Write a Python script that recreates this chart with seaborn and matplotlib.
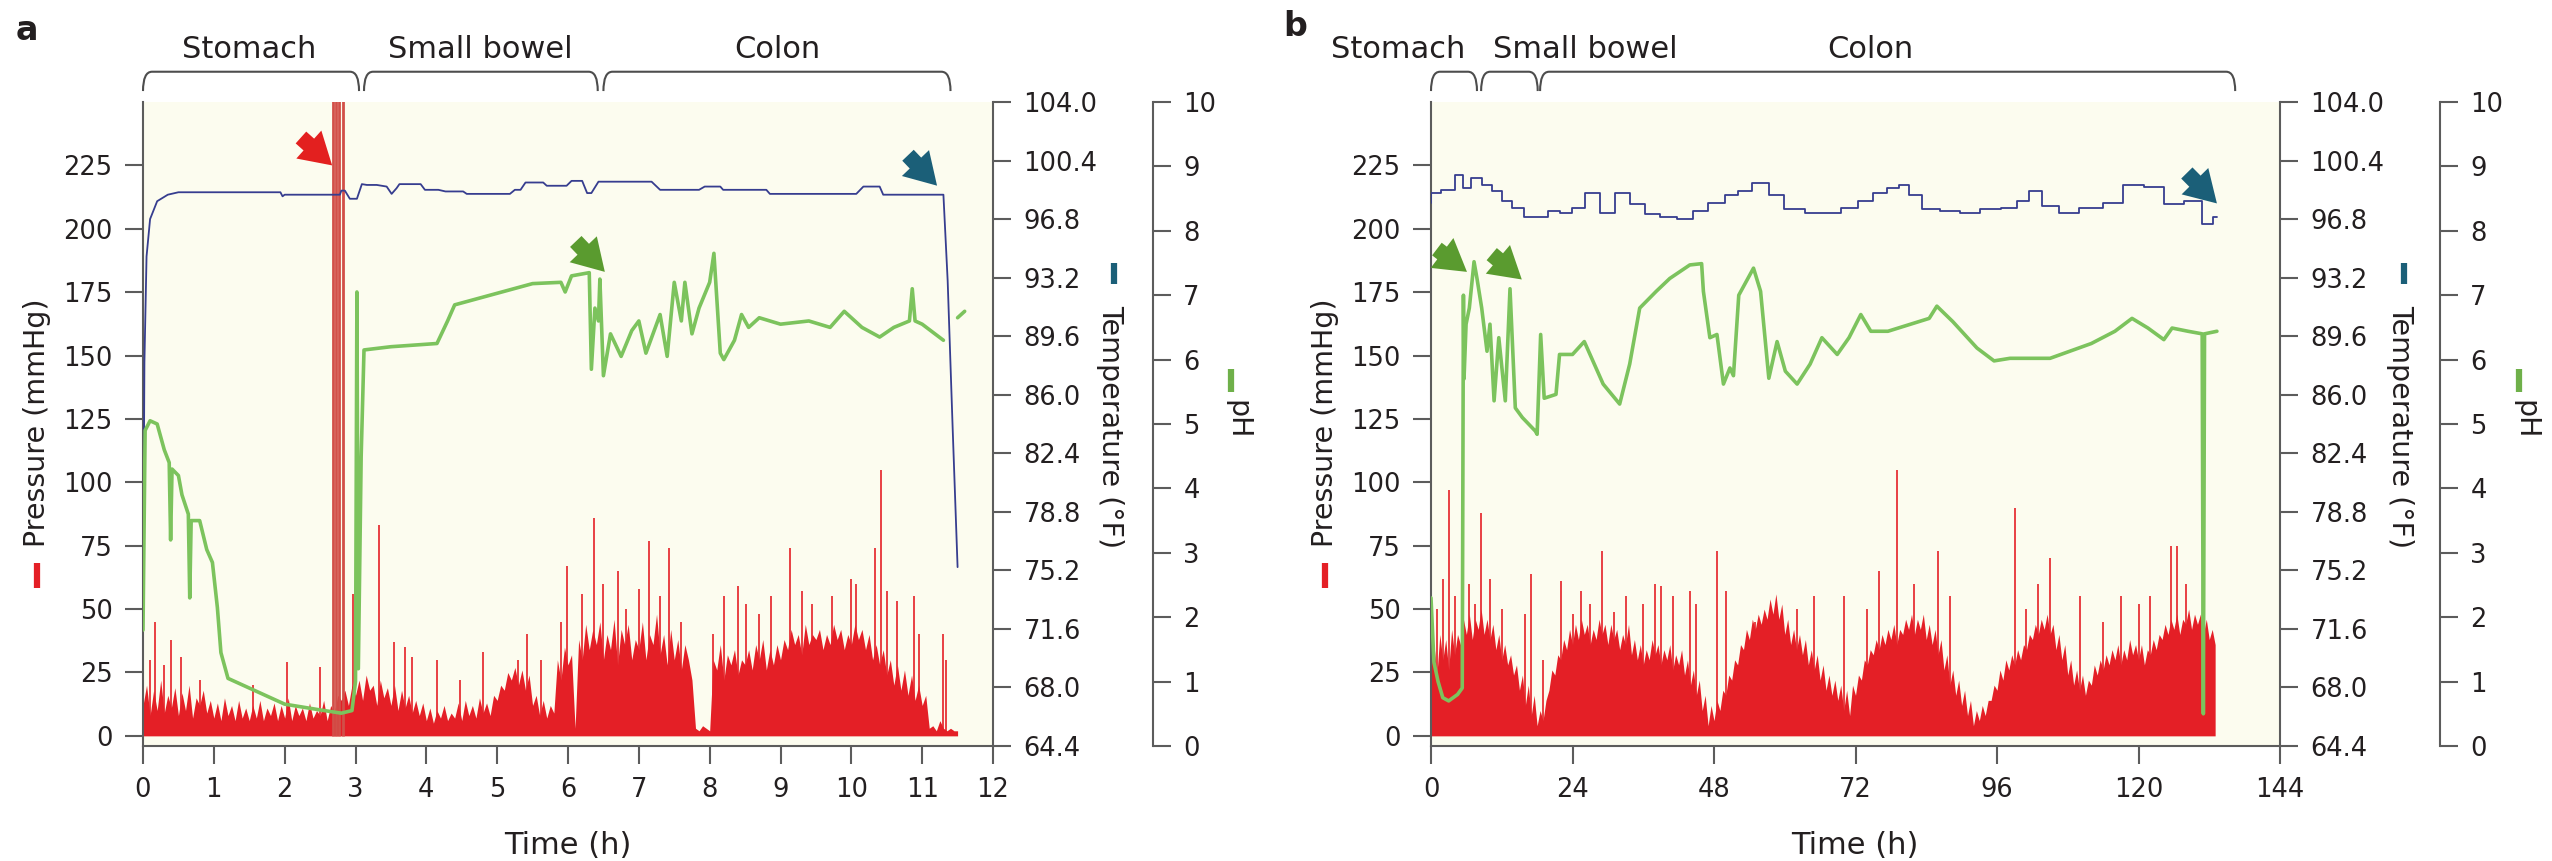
import numpy as np
import matplotlib
matplotlib.use('Agg')
import matplotlib.pyplot as plt
from matplotlib.path import Path
from matplotlib.patches import PathPatch
from matplotlib.lines import Line2D
import seaborn as sns

# ---------------- panel a: 12 h recording ----------------
temp_a_t = [0.0, 0.02, 0.05, 0.1, 0.2, 0.35, 0.5, 1.94, 1.97, 2.0, 2.78, 2.8, 2.85, 2.92,
            3.02, 3.09, 3.16, 3.3, 3.44, 3.51, 3.58, 3.62, 3.92, 3.98, 4.17, 4.27, 4.52,
            4.57, 5.18, 5.25, 5.33, 5.4, 5.65, 5.7, 5.98, 6.05, 6.2, 6.27, 6.33, 6.43,
            7.18, 7.3, 7.85, 7.93, 8.15, 8.19, 8.8, 8.85, 10.07, 10.17, 10.4, 10.45,
            11.3, 11.36, 11.43, 11.5]
temp_a = [72.0, 88.0, 94.5, 96.8, 97.9, 98.3, 98.45, 98.45, 98.2, 98.3, 98.3, 98.55, 98.55,
          98.05, 98.05, 98.95, 98.9, 98.9, 98.8, 98.35, 98.7, 98.95, 98.95, 98.6, 98.6,
          98.5, 98.5, 98.35, 98.35, 98.6, 98.6, 99.05, 99.05, 98.85, 98.85, 99.15, 99.15,
          98.4, 98.4, 99.1, 99.1, 98.6, 98.6, 98.8, 98.8, 98.6, 98.6, 98.35, 98.35, 98.8,
          98.8, 98.3, 98.3, 93.0, 84.0, 75.4]

ph_a_t = [0.0, 0.03, 0.1, 0.2, 0.3, 0.37, 0.39, 0.41, 0.5, 0.55, 0.64, 0.66, 0.68, 0.8,
          0.9, 0.98, 1.05, 1.1, 1.2, 1.5, 2.0, 2.5, 2.8, 2.95, 3.0, 3.02, 3.04, 3.08, 3.12,
          3.5, 4.15, 4.3, 4.4, 4.9, 5.5, 5.9, 5.96, 6.05, 6.3, 6.33, 6.38, 6.43, 6.45, 6.5,
          6.6, 6.75, 6.9, 7.0, 7.1, 7.3, 7.4, 7.5, 7.6, 7.65, 7.75, 7.85, 8.0, 8.06, 8.15,
          8.2, 8.35, 8.45, 8.55, 8.7, 9.0, 9.4, 9.7, 9.9, 10.15, 10.4, 10.6, 10.82, 10.86,
          10.9, 11.0, 11.3]
ph_a = [1.8, 4.9, 5.05, 5.0, 4.6, 4.4, 3.2, 4.3, 4.2, 3.9, 3.6, 2.3, 3.5, 3.5, 3.05, 2.85,
        2.15, 1.45, 1.05, 0.9, 0.65, 0.56, 0.51, 0.55, 1.0, 7.05, 1.2, 4.5, 6.15, 6.2, 6.25,
        6.6, 6.85, 7.0, 7.18, 7.2, 7.05, 7.3, 7.35, 5.85, 6.8, 6.6, 7.25, 5.75, 6.4, 6.05,
        6.45, 6.6, 6.1, 6.7, 6.05, 7.2, 6.6, 7.2, 6.4, 6.8, 7.2, 7.65, 6.1, 6.0, 6.3, 6.7,
        6.5, 6.65, 6.55, 6.6, 6.5, 6.75, 6.5, 6.35, 6.5, 6.6, 7.1, 6.6, 6.55, 6.3]
ph_a_tail_t = [11.5, 11.6]
ph_a_tail = [6.65, 6.75]

# pressure, one reading every 0.05 h from 0 to 11.5 h
pres_a = [12, 20, 8, 18, 10, 22, 9, 16, 11, 19,
          8, 17, 10, 20, 7, 15, 12, 18, 9, 14,
          7, 13, 6, 15, 8, 12, 6, 14, 7, 11,
          6, 12, 7, 14, 6, 11, 8, 13, 6, 12,
          7, 15, 6, 12, 8, 11, 6, 13, 7, 10,
          8, 14, 6, 12, 9, 16, 14, 18, 12, 20,
          16, 22, 14, 24, 18, 20, 12, 22, 15, 19,
          12, 20, 10, 18, 11, 16, 9, 14, 8, 13,
          6, 11, 5, 10, 7, 12, 6, 9, 7, 13,
          6, 14, 8, 12, 7, 15, 9, 13, 8, 16,
          14, 20, 18, 25, 22, 27, 20, 26, 18, 24,
          12, 16, 8, 14, 7, 12, 9, 30, 22, 35,
          28, 32, 3, 38, 30, 44, 34, 42, 36, 45,
          30, 40, 34, 46, 28, 42, 36, 44, 30, 38,
          34, 45, 30, 40, 36, 48, 32, 40, 28, 42,
          30, 38, 26, 36, 30, 22, 3, 2, 4, 3,
          2, 30, 26, 36, 22, 32, 28, 34, 24, 30,
          28, 34, 26, 36, 30, 38, 26, 34, 28, 36,
          30, 38, 34, 42, 36, 40, 32, 44, 36, 40,
          38, 42, 34, 40, 36, 44, 38, 42, 34, 40,
          36, 44, 38, 42, 34, 40, 30, 36, 28, 34,
          24, 30, 20, 28, 18, 26, 16, 24, 14, 20,
          12, 16, 3, 4, 2, 6, 3, 2, 3, 2,
          2]
spike_a_t = [0.1, 0.17, 0.3, 0.4, 0.53, 0.8, 1.55, 2.03, 2.5, 2.96, 3.33, 3.55, 3.7, 3.8,
             4.15, 4.47, 4.8, 5.3, 5.42, 5.62, 5.9, 5.98, 6.2, 6.37, 6.5, 6.7, 6.82, 7.0,
             7.15, 7.3, 7.42, 7.6, 8.05, 8.2, 8.4, 8.52, 8.7, 8.87, 9.14, 9.3, 9.45, 9.72,
             9.99, 10.07, 10.34, 10.42, 10.5, 10.65, 10.88, 10.96, 11.3, 11.33]
spike_a = [30, 45, 28, 38, 31, 22, 20, 29, 27, 56, 83, 37, 35, 31,
           30, 22, 33, 30, 40, 30, 45, 67, 56, 86, 60, 65, 50, 58,
           77, 55, 74, 45, 40, 55, 59, 52, 48, 55, 74, 57, 52, 55,
           62, 60, 74, 105, 57, 53, 55, 40, 40, 30]
bars_a_t = [2.68, 2.725, 2.77, 2.82]

regions_a = [('Stomach', 0.0, 3.05, 1.5), ('Small bowel', 3.12, 6.42, 4.76),
             ('Colon', 6.5, 11.4, 8.95)]
arrows_a = [(2.23, 236, 2.67, 225, '#e3201f'), (6.11, 195, 6.52, 183, '#5a9b2f'),
            (10.8, 229, 11.21, 217, '#1b5f78')]

# ---------------- panel b: 6 day recording ----------------
temp_b_t = [0.0, 0.1, 3.2, 4.9, 5.9, 7.8, 9.5, 11.2, 12.9, 14.6, 16.8, 19.0, 20.7, 23.0,
            24.7, 27.5, 29.8, 32.6, 34.9, 37.7, 40.0, 43.4, 45.6, 48.5, 51.3, 53.0, 55.8,
            58.7, 61.2, 65.5, 68.2, 70.9, 73.9, 76.2, 78.4, 80.3, 82.0, 84.5, 88.0, 91.3,
            95.0, 98.2, 100.5, 102.3, 105.0, 107.9, 112.0, 116.0, 118.9, 123.0, 125.7,
            129.7, 132.0, 133.3]
temp_b = [97.8, 98.4, 98.6, 99.5, 98.7, 99.3, 98.9, 98.5, 97.9, 97.5, 96.9, 96.9, 97.3, 97.2,
          97.5, 98.4, 97.2, 98.4, 97.7, 97.1, 96.9, 96.8, 97.3, 97.8, 98.3, 98.5, 99.0,
          98.3, 97.4, 97.2, 97.2, 97.5, 97.9, 98.4, 98.7, 98.9, 98.3, 97.4, 97.3, 97.2,
          97.4, 97.5, 97.9, 98.5, 97.6, 97.2, 97.5, 97.8, 98.9, 98.8, 97.7, 97.9, 96.5,
          96.9]

ph_b_t = [0.0, 0.5, 1.2, 2.0, 3.0, 4.5, 5.3, 5.4, 5.5, 5.6, 5.95, 6.5, 7.3, 7.8, 8.6, 9.5,
          10.0, 10.7, 11.5, 12.6, 13.4, 14.3, 15.5, 17.7, 18.0, 18.6, 19.2, 21.2, 21.8, 24.0,
          26.0, 29.2, 32.0, 33.7, 35.4, 38.2, 40.5, 43.9, 45.9, 46.2, 47.3, 48.5, 49.6,
          50.7, 51.3, 52.2, 54.7, 55.9, 57.3, 58.7, 60.1, 62.1, 64.3, 66.3, 68.9, 70.9,
          72.9, 74.6, 77.5, 84.5, 85.8, 88.5, 92.6, 95.5, 98.2, 105.0, 112.0, 116.0, 118.9,
          121.6, 124.3, 125.7, 128.4, 130.8, 131.0, 131.2, 133.3]
ph_b = [2.3, 1.3, 1.0, 0.75, 0.7, 0.8, 0.9, 4.0, 7.0, 5.7, 6.55, 6.8, 7.52, 7.26, 6.8, 6.13,
        6.55, 5.36, 6.34, 5.36, 7.1, 5.25, 5.1, 4.89, 4.84, 6.39, 5.4, 5.46, 6.08, 6.08,
        6.28, 5.62, 5.31, 5.93, 6.8, 7.06, 7.26, 7.47, 7.49, 7.06, 6.34, 6.39, 5.62, 5.87,
        5.75, 7.0, 7.42, 7.06, 5.71, 6.28, 5.82, 5.62, 5.93, 6.34, 6.08, 6.34, 6.7, 6.44,
        6.44, 6.64, 6.83, 6.59, 6.18, 5.98, 6.02, 6.02, 6.25, 6.44, 6.64, 6.49, 6.31, 6.49,
        6.44, 6.4, 0.5, 6.4, 6.44]

# pressure, one reading every 0.5 h from 0 to 133 h
pres_b = [28, 36, 24, 40, 30, 38, 26, 42, 32, 40,
          36, 46, 40, 48, 38, 46, 42, 50, 40, 46,
          38, 44, 34, 40, 30, 36, 28, 32, 24, 28,
          18, 24, 12, 20, 8, 16, 4, 10, 6, 14,
          18, 26, 24, 32, 30, 38, 34, 42, 36, 44,
          38, 46, 40, 44, 36, 42, 38, 46, 40, 44,
          36, 44, 38, 42, 34, 40, 36, 44, 32, 38,
          30, 36, 28, 34, 30, 38, 32, 36, 28, 34,
          30, 36, 26, 32, 28, 34, 24, 30, 20, 26,
          16, 22, 10, 16, 4, 12, 6, 14, 10, 18,
          16, 24, 22, 30, 28, 36, 34, 42, 38, 46,
          42, 48, 44, 50, 46, 54, 48, 56, 46, 52,
          40, 46, 36, 42, 34, 40, 32, 38, 28, 34,
          26, 32, 22, 28, 18, 24, 16, 22, 14, 20,
          10, 18, 8, 20, 16, 24, 22, 30, 28, 34,
          32, 38, 34, 40, 36, 42, 38, 44, 36, 42,
          40, 46, 42, 48, 40, 46, 42, 48, 38, 44,
          36, 42, 32, 38, 26, 32, 20, 26, 16, 22,
          12, 18, 8, 14, 4, 10, 6, 12, 8, 14,
          14, 20, 18, 26, 22, 30, 26, 32, 28, 34,
          30, 36, 34, 40, 38, 44, 40, 46, 42, 48,
          40, 44, 34, 40, 30, 36, 24, 30, 20, 26,
          18, 24, 16, 22, 20, 28, 24, 30, 26, 32,
          28, 34, 30, 36, 28, 34, 30, 38, 32, 36,
          30, 36, 28, 34, 32, 38, 34, 40, 38, 44,
          40, 46, 42, 48, 40, 46, 44, 50, 42, 48,
          44, 48, 40, 46, 38, 42, 36]
spike_b_t = [1, 2, 3, 4, 5.5, 6.5, 7.5, 8.5, 10, 12, 16, 17, 19, 22, 24, 25.5, 27, 29, 31, 33,
             36, 38, 39, 41, 44, 45, 48.5, 50, 55, 62, 65, 70, 74, 76, 79, 82, 86, 88, 99,
             101, 103, 105, 110, 114, 117, 120, 122, 125.5, 126.5, 128, 131]
spike_b = [50, 62, 97, 55, 89, 60, 52, 88, 62, 50, 48, 64, 30, 61, 48, 57, 52, 73, 49, 55,
           52, 60, 59, 55, 57, 52, 73, 57, 45, 50, 55, 55, 50, 65, 105, 60, 73, 55, 90,
           50, 60, 70, 55, 45, 55, 52, 55, 75, 75, 60, 66]

regions_b = [('Stomach', 0.0, 7.8, -5.5), ('Small bowel', 8.5, 18.1, 26.1),
             ('Colon', 18.5, 136.4, 74.5)]
arrows_b = [(1.0, 192, 6.1, 183, '#5a9b2f'), (10.3, 190, 15.4, 180, '#5a9b2f'),
            (128.2, 222, 133.3, 210, '#1b5f78')]

temp_ticks = [64.4, 68.0, 71.6, 75.2, 78.8, 82.4, 86.0, 89.6, 93.2, 96.8, 100.4, 104.0]

# ---------------- styling ----------------
sns.set_theme()
sns.set_style('ticks')
plt.rcParams['font.family'] = ['DejaVu Sans']

RED = '#e41f26'
BAR_RED = '#d24f48'
GREEN = '#7cc35d'
NAVY = '#363d8f'
SPINE = '#5c5c5c'
TEXT = '#231f20'
BG = '#fcfcef'

W, H = 2552, 861
fig = plt.figure(figsize=(W / 100, H / 100), dpi=100)


def fx(px):
    return px / W


def fy(py):
    return 1 - py / H


def dash(x, y0, y1, color):
    fig.add_artist(Line2D([fx(x), fx(x)], [fy(y0), fy(y1)], transform=fig.transFigure,
                          color=color, lw=4.5, solid_capstyle='butt'))


def brace(ax, x0, x1, r):
    lo, hi = 1.017, 1.047
    verts = [(x0, lo), (x0, hi), (x0 + r, hi), (x1 - r, hi), (x1, hi), (x1, lo)]
    codes = [Path.MOVETO, Path.CURVE3, Path.CURVE3, Path.LINETO, Path.CURVE3, Path.CURVE3]
    ax.add_patch(PathPatch(Path(verts, codes), transform=ax.get_xaxis_transform(),
                           fill=False, ec='#4d4d4d', lw=1.5, clip_on=False))


def panel(left_px, right_px, xmax, xstep, pres_t, pres, spk_t, spk, t_t, t_v, p_t, p_v,
          regions, arrows, bars=None, tail=None, temp_style='default'):
    ax = fig.add_axes([fx(left_px), fy(746), fx(right_px - left_px), 644 / H])
    ax.set_facecolor(BG)
    ax.fill_between(pres_t, 0, pres, color=RED, lw=0)
    ax.vlines(spk_t, 0, spk, color=RED, lw=1.2)
    if bars is not None:
        ax.vlines(bars, 0, 260, color=BAR_RED, lw=2.0)
    ax.set_xlim(0, xmax)
    ax.set_ylim(-4, 250)
    ax.set_xticks(np.arange(0, xmax + 1, xstep))
    ax.set_yticks(np.arange(0, 226, 25))

    ax_t = ax.twinx()
    sns.lineplot(x=t_t, y=t_v, ax=ax_t, color=NAVY, lw=1.3, estimator=None, sort=False,
                 drawstyle=temp_style)
    ax_t.set_ylim(64.4, 104.0)
    ax_t.set_yticks(temp_ticks)
    ax_t.set_yticklabels(['%.1f' % v for v in temp_ticks])

    ax_p = ax.twinx()
    sns.lineplot(x=p_t, y=p_v, ax=ax_p, color=GREEN, lw=2.6, estimator=None, sort=False)
    if tail is not None:
        sns.lineplot(x=tail[0], y=tail[1], ax=ax_p, color=GREEN, lw=2.6, estimator=None)
    ax_p.set_ylim(0, 10)
    ax_p.set_yticks(range(0, 11))
    ax_p.spines['right'].set_position(('outward', 115))

    for a in (ax, ax_t, ax_p):
        a.set_xlabel('')
        a.set_ylabel('')
        a.tick_params(length=13, width=1.5, color=SPINE, labelsize=18.5, pad=9,
                      labelcolor=TEXT)
        for s in a.spines.values():
            s.set_color(SPINE)
            s.set_linewidth(1.5)
    ax.spines['top'].set_visible(False)
    ax.spines['right'].set_visible(False)
    for a in (ax_t, ax_p):
        for side in ('top', 'left', 'bottom'):
            a.spines[side].set_visible(False)
    ax.set_xlim(0, xmax)

    px_per_unit = (right_px - left_px) / xmax
    for name, x0, x1, xl in regions:
        brace(ax, x0, x1, 9 / px_per_unit)
        ax.text(xl, 1.081, name, transform=ax.get_xaxis_transform(), ha='center',
                va='center', fontsize=22, color=TEXT)
    for x0, y0, x1, y1, c in arrows:
        ax.annotate('', xy=(x1, y1), xytext=(x0, y0), annotation_clip=False,
                    arrowprops=dict(arrowstyle='simple,head_length=0.75,head_width=0.9,'
                                               'tail_width=0.38',
                                    fc=c, ec='none', mutation_scale=30,
                                    shrinkA=0, shrinkB=0))
    return ax


t_pres_a = np.linspace(0, 11.5, len(pres_a))
t_pres_b = np.linspace(0, 133, len(pres_b))

panel(143, 993, 12, 1, t_pres_a, pres_a, spike_a_t, spike_a, temp_a_t, temp_a,
      ph_a_t, ph_a, regions_a, arrows_a, bars=bars_a_t, tail=(ph_a_tail_t, ph_a_tail))
panel(1431, 2280, 144, 24, t_pres_b, pres_b, spike_b_t, spike_b, temp_b_t, temp_b,
      ph_b_t, ph_b, regions_b, arrows_b, temp_style='steps-mid')

# panel letters, axis titles and their colour keys
fig.text(fx(27), fy(31), 'a', fontsize=24, fontweight='bold', color=TEXT,
         ha='center', va='center')
fig.text(fx(1295), fy(27), 'b', fontsize=24, fontweight='bold', color=TEXT,
         ha='center', va='center')
for tx, px_, phx, xc in ((37, 1110, 1237, 568), (1325, 2400, 2525, 1855)):
    fig.text(fx(tx), fy(423), 'Pressure (mmHg)', rotation=90, fontsize=20.5, color=TEXT,
             ha='center', va='center')
    dash(tx, 563, 588, RED)
    fig.text(fx(px_), fy(427), 'Temperature (°F)', rotation=270, fontsize=20.5,
             color=TEXT, ha='center', va='center')
    dash(px_ + 4, 263, 284, '#1b5f78')
    fig.text(fx(phx), fy(420), 'pH', rotation=270, fontsize=20.5, color=TEXT,
             ha='center', va='center')
    dash(phx - 6, 369, 392, '#6fb04a')
    fig.text(fx(xc), fy(845), 'Time (h)', fontsize=22, color=TEXT,
             ha='center', va='center')

fig.savefig('out.png', dpi=100, facecolor='white')
